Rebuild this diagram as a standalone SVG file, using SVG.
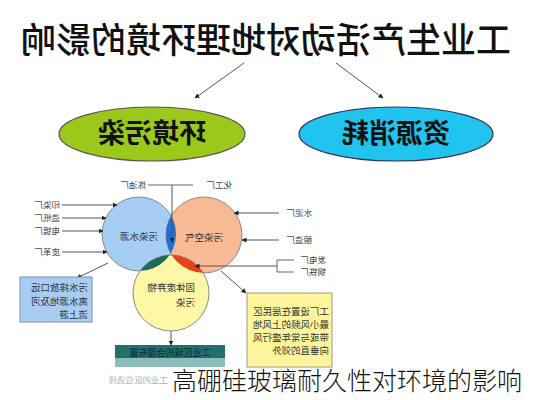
<svg xmlns="http://www.w3.org/2000/svg" width="533" height="400" viewBox="0 0 533 400">
<style>
text{font-family:"Noto Sans CJK SC","Noto Sans",sans-serif}
.lbl{font-size:8.5px;fill:#444}
.ln{stroke:#666;stroke-width:1;fill:none}
.arr{stroke:#555;stroke-width:1;fill:none;marker-end:url(#ah)}
.circ{stroke:#8a8a8a;stroke-width:1}
.inner{font-size:9.5px;fill:#333}
</style>
<defs>
<marker id="ah" viewBox="0 0 10 10" refX="9" refY="5" markerWidth="5" markerHeight="5" orient="auto"><path d="M0,0L10,5L0,10z" fill="#222"/></marker>
<clipPath id="cB"><circle cx="139" cy="234" r="37"/></clipPath>
<clipPath id="cO"><circle cx="204" cy="235" r="38"/></clipPath>
</defs>
<rect width="533" height="400" fill="#fff"/>
<g id="title"><text transform="translate(266,53) scale(-1,1)" text-anchor="middle" font-size="35" font-weight="500" fill="#111">工业生产活动对地理环境的影响</text></g>
<g id="ellipse-left"><ellipse cx="152" cy="134" rx="93" ry="27" fill="#9cc81c" stroke="#555" stroke-width="1.2"/><text transform="translate(152,143) scale(-1,1)" text-anchor="middle" font-size="27" font-weight="700" fill="#111">环境污染</text></g>
<g id="ellipse-right"><ellipse cx="396" cy="134" rx="97" ry="27" fill="#21c4ee" stroke="#335" stroke-width="1.2"/><text transform="translate(396,143) scale(-1,1)" text-anchor="middle" font-size="27" font-weight="700" fill="#111">资源消耗</text></g>
<g id="circle-water"><circle class="circ" cx="139" cy="234" r="37" fill="#a6cdf4"/></g>
<g id="circle-air"><circle class="circ" cx="204" cy="235" r="38" fill="#f8b995"/></g>
<g id="circle-solid"><circle class="circ" cx="171" cy="293" r="38" fill="#fdf7a6"/></g>
<g id="overlaps">
<circle cx="204" cy="235" r="38" fill="#1f6fd6" clip-path="url(#cB)"/>
<circle cx="171" cy="293" r="38" fill="#1d6b5c" clip-path="url(#cB)"/>
<circle cx="171" cy="293" r="38" fill="#e6421a" clip-path="url(#cO)"/>
</g>
<g id="circle-labels">
<text class="inner" transform="translate(139,240) scale(-1,1)" text-anchor="middle">污染水源</text>
<text class="inner" transform="translate(204,241) scale(-1,1)" text-anchor="middle">污染空气</text>
<text class="inner" transform="translate(195,291) scale(-1,1)">固体废弃物</text>
<text class="inner" transform="translate(195,306) scale(-1,1)">污染</text>
</g>
<g id="connectors">
<line class="arr" x1="244" y1="63" x2="195" y2="98"/>
<line class="arr" x1="336" y1="63" x2="383" y2="98"/>
<line class="arr" x1="62" y1="205" x2="117" y2="205"/>
<line class="arr" x1="62" y1="218" x2="106" y2="218"/>
<line class="arr" x1="62" y1="231" x2="103" y2="231"/>
<line class="arr" x1="62" y1="252" x2="107" y2="252"/>
<polyline class="ln" points="148,185 193,185"/>
<line class="arr" x1="172" y1="185" x2="172" y2="242"/>
<line class="arr" x1="279" y1="213" x2="234" y2="213"/>
<line class="arr" x1="279" y1="240" x2="242" y2="240"/>
<polyline class="ln" points="294,260 277,260 277,272 294,272"/>
<line class="arr" x1="277" y1="266" x2="195" y2="266"/>
<line class="arr" x1="108" y1="263" x2="77" y2="278"/>
<line class="arr" x1="221" y1="271" x2="246" y2="293"/>
<line class="arr" x1="171" y1="331" x2="171" y2="345"/>
</g>
<g id="labels-left">
<text class="lbl" transform="translate(60,208) scale(-1,1)">印染厂</text>
<text class="lbl" transform="translate(60,221) scale(-1,1)">造纸厂</text>
<text class="lbl" transform="translate(60,234) scale(-1,1)">电镀厂</text>
<text class="lbl" transform="translate(60,255) scale(-1,1)">皮革厂</text>
<text class="lbl" transform="translate(146,188) scale(-1,1)">炼油厂</text>
</g>
<g id="labels-right">
<text class="lbl" transform="translate(232,188) scale(-1,1)">化工厂</text>
<text class="lbl" transform="translate(312,216) scale(-1,1)">水泥厂</text>
<text class="lbl" transform="translate(312,243) scale(-1,1)">酿造厂</text>
<text class="lbl" transform="translate(326,263) scale(-1,1)">发电厂</text>
<text class="lbl" transform="translate(326,275) scale(-1,1)">钢铁厂</text>
</g>
<g id="box-water">
<rect x="20" y="277" width="72" height="45" fill="#a9cdf2" stroke="#7a8fa8" stroke-width="1"/>
<text class="inner" font-size="10" transform="translate(88,291) scale(-1,1)">污水排放口远</text>
<text class="inner" font-size="10" transform="translate(88,305) scale(-1,1)">离水源地及河</text>
<text class="inner" font-size="10" transform="translate(88,318) scale(-1,1)">流上游</text>
</g>
<g id="box-air">
<rect x="247" y="293" width="85" height="74" fill="#fef59c" stroke="#9a9a80" stroke-width="1"/>
<text class="inner" font-size="9" transform="translate(329,315) scale(-1,1)">工厂设置在居民区</text>
<text class="inner" font-size="9" transform="translate(329,328) scale(-1,1)">最小风频的上风地</text>
<text class="inner" font-size="9" transform="translate(329,341) scale(-1,1)">带或与常年盛行风</text>
<text class="inner" font-size="9" transform="translate(329,354) scale(-1,1)">向垂直的郊外</text>
</g>
<g id="box-solid">
<rect x="115" y="345" width="110" height="13" fill="#236f6c"/>
<rect x="115" y="358" width="110" height="9" fill="#8dbcbc"/>
<text font-size="9" fill="#0b2c33" transform="translate(170,356) scale(-1,1)" text-anchor="middle">工业区域的合理布置</text>
</g>
<g id="faded"><text font-size="8.5" fill="#b0b0b0" transform="translate(138,383) scale(-1,1)" text-anchor="middle">工业的区位选择</text></g>
<g id="caption"><text x="172" y="390" font-size="25" font-weight="300" fill="#111">高硼硅玻璃耐久性对环境的影响</text></g>
</svg>
